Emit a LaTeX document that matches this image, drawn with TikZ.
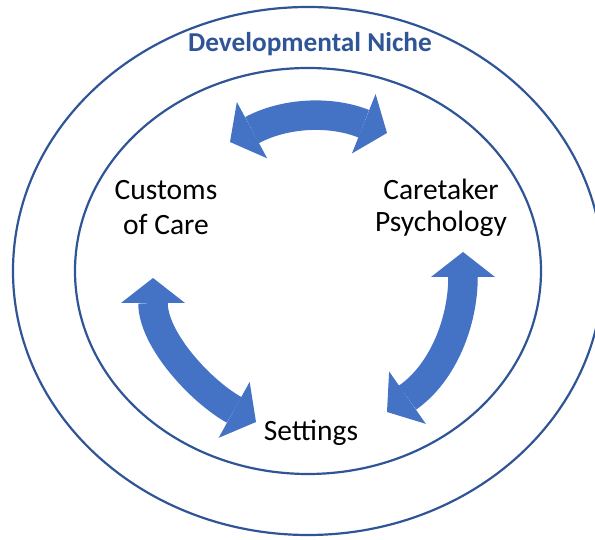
\documentclass[tikz,border=0pt]{standalone}
\usepackage{fontspec}
\setmainfont{Carlito}
\usetikzlibrary{arrows.meta}
\usetikzlibrary{positioning}
\definecolor{nicheblue}{HTML}{2F5597}
\definecolor{arrowblue}{HTML}{4472C4}

\begin{document}
\begin{tikzpicture}[x=1pt,y=1pt,
ring/.style={draw=nicheblue,line width=2.2pt},
lbl/.style={font=\fontsize{29.5}{35}\selectfont,align=center,inner sep=0pt},
dblarrow/.style={draw=arrowblue,line width=29.5pt,
  arrows={Triangle[length=25pt,width=64pt,line width=0pt]-Triangle[length=25pt,width=64pt,line width=0pt]}}]
\useasboundingbox (0,0) rectangle (595,540);
\clip (0,0) rectangle (595,540);

\draw[ring] (308,269) ellipse [x radius=295,y radius=264];
\draw[ring] (308,269) ellipse [x radius=233,y radius=203];

\node[anchor=base,inner sep=0pt,text=nicheblue,font=\fontsize{27.3}{33}\selectfont\bfseries] (niche) at (310,488) {Developmental Niche};

\node[lbl] (customs) at (166,332) {Customs\\of Care};
\node[lbl,font=\fontsize{29.5}{32}\selectfont] (caretaker) at (441,332.5) {Caretaker\\Psychology};
\node[lbl,anchor=base] (settings) at (311,99) {Settings};

\coordinate (cc) at (230,398);
\coordinate (cp) at (387,407);
\coordinate (pc) at (463,288);
\coordinate (ps) at (387,128);
\coordinate (sc) at (256,118);
\coordinate (cs) at (153,262);

\draw[dblarrow] (cc) to[bend left=25] (cp);
\draw[dblarrow] (pc) to[out=-90,in=35] (ps);
\draw[dblarrow] (cs) to[out=-90,in=151,looseness=0.9] (sc);

\end{tikzpicture}
\end{document}
